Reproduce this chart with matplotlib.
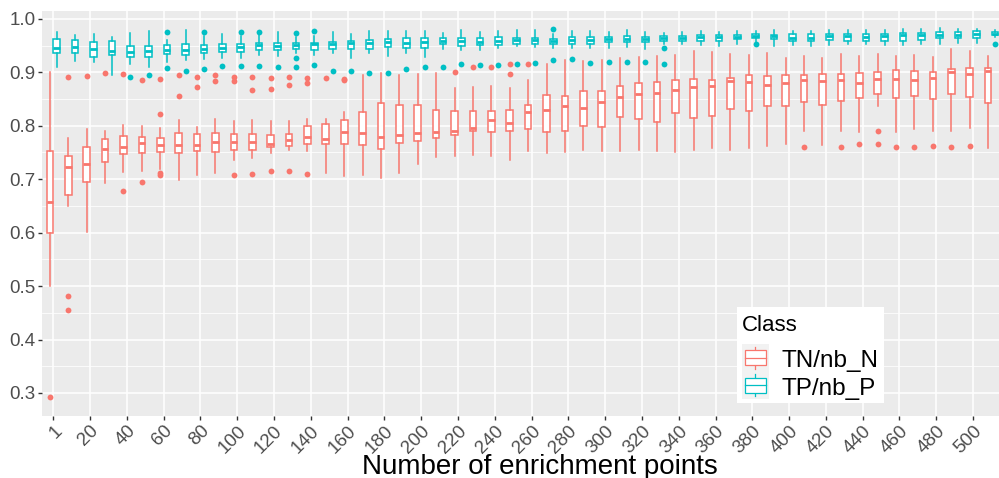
import matplotlib
matplotlib.use("Agg")
import matplotlib.pyplot as plt
from matplotlib.patches import Rectangle
from matplotlib.lines import Line2D

# x categories: number of enrichment points (only every other one is labelled)
points = ["1"] + [str(v) for v in range(10, 520, 10)]

# TN/nb_N boxes
tn_lo = [0.500, 0.649, 0.602, 0.693, 0.713, 0.715, 0.719, 0.699, 0.707, 0.711,
         0.735, 0.739, 0.749, 0.754, 0.752, 0.711, 0.705, 0.707, 0.702, 0.711,
         0.729, 0.741, 0.743, 0.745, 0.743, 0.736, 0.752, 0.749, 0.751, 0.754,
         0.752, 0.753, 0.754, 0.752, 0.751, 0.754, 0.758, 0.755, 0.758, 0.762,
         0.766, 0.790, 0.764, 0.790, 0.788, 0.836, 0.789, 0.793, 0.790, 0.791,
         0.795, 0.759]
tn_q1 = [0.600, 0.671, 0.694, 0.733, 0.747, 0.749, 0.750, 0.749, 0.752, 0.751,
         0.755, 0.755, 0.761, 0.762, 0.766, 0.766, 0.766, 0.764, 0.757, 0.768,
         0.771, 0.777, 0.782, 0.790, 0.788, 0.790, 0.794, 0.788, 0.790, 0.800,
         0.798, 0.817, 0.813, 0.806, 0.824, 0.814, 0.819, 0.832, 0.828, 0.836,
         0.837, 0.844, 0.839, 0.847, 0.851, 0.859, 0.852, 0.856, 0.850, 0.859,
         0.854, 0.842]
tn_med = [0.658, 0.723, 0.729, 0.756, 0.761, 0.767, 0.764, 0.764, 0.764, 0.770,
          0.769, 0.769, 0.766, 0.774, 0.778, 0.776, 0.789, 0.786, 0.778, 0.783,
          0.787, 0.788, 0.791, 0.796, 0.810, 0.805, 0.826, 0.830, 0.836, 0.833,
          0.844, 0.853, 0.859, 0.861, 0.867, 0.872, 0.875, 0.883, 0.881, 0.876,
          0.879, 0.885, 0.883, 0.886, 0.879, 0.888, 0.888, 0.886, 0.890, 0.900,
          0.896, 0.903]
tn_q3 = [0.752, 0.744, 0.761, 0.776, 0.780, 0.779, 0.777, 0.786, 0.784, 0.786,
         0.785, 0.785, 0.783, 0.784, 0.800, 0.804, 0.811, 0.826, 0.842, 0.838,
         0.838, 0.829, 0.827, 0.827, 0.828, 0.830, 0.838, 0.857, 0.855, 0.864,
         0.864, 0.874, 0.879, 0.881, 0.885, 0.887, 0.886, 0.889, 0.895, 0.893,
         0.894, 0.894, 0.896, 0.897, 0.899, 0.901, 0.904, 0.903, 0.901, 0.906,
         0.908, 0.908]
tn_hi = [0.900, 0.777, 0.794, 0.791, 0.802, 0.800, 0.795, 0.811, 0.797, 0.812,
         0.809, 0.810, 0.808, 0.809, 0.812, 0.812, 0.826, 0.894, 0.898, 0.894,
         0.896, 0.898, 0.871, 0.872, 0.874, 0.871, 0.886, 0.916, 0.922, 0.921,
         0.923, 0.927, 0.929, 0.930, 0.933, 0.940, 0.938, 0.934, 0.933, 0.936,
         0.926, 0.931, 0.927, 0.934, 0.930, 0.935, 0.931, 0.933, 0.929, 0.943,
         0.939, 0.930]
tn_out = [[0.292], [0.891, 0.481, 0.455], [0.893], [0.898], [0.896, 0.678],
          [0.886, 0.695], [0.888, 0.822, 0.712, 0.708], [0.894, 0.856],
          [0.892, 0.873], [0.894, 0.883], [0.891, 0.884, 0.707],
          [0.892, 0.867, 0.710], [0.889, 0.869, 0.716], [0.892, 0.876, 0.716],
          [0.890, 0.879, 0.709], [0.889], [0.888, 0.885], [], [], [], [], [],
          [0.900], [0.910], [0.909], [0.915, 0.896], [0.916], [], [], [], [],
          [], [], [], [], [], [], [], [], [], [], [0.761], [], [0.760],
          [0.766], [0.791, 0.766], [0.760], [0.760], [0.762], [0.761],
          [0.762], []]

# TP/nb_P boxes
tp_lo = [0.910, 0.921, 0.919, 0.894, 0.916, 0.910, 0.919, 0.922, 0.925, 0.927,
         0.927, 0.932, 0.930, 0.936, 0.933, 0.936, 0.927, 0.936, 0.930, 0.936,
         0.928, 0.944, 0.942, 0.942, 0.946, 0.949, 0.948, 0.945, 0.946, 0.945,
         0.945, 0.948, 0.944, 0.952, 0.952, 0.951, 0.950, 0.952, 0.956, 0.950,
         0.951, 0.950, 0.951, 0.952, 0.952, 0.951, 0.951, 0.952, 0.952, 0.954,
         0.954, 0.966]
tp_q1 = [0.936, 0.936, 0.929, 0.932, 0.929, 0.929, 0.934, 0.932, 0.936, 0.938,
         0.937, 0.941, 0.941, 0.944, 0.942, 0.943, 0.943, 0.944, 0.948, 0.946,
         0.946, 0.952, 0.949, 0.951, 0.951, 0.953, 0.952, 0.952, 0.952, 0.952,
         0.956, 0.956, 0.956, 0.958, 0.958, 0.959, 0.959, 0.962, 0.964, 0.962,
         0.959, 0.959, 0.961, 0.959, 0.959, 0.959, 0.959, 0.961, 0.964, 0.964,
         0.964, 0.969]
tp_med = [0.945, 0.948, 0.944, 0.940, 0.937, 0.940, 0.941, 0.942, 0.943, 0.946,
          0.947, 0.951, 0.950, 0.951, 0.952, 0.953, 0.955, 0.955, 0.956, 0.955,
          0.956, 0.958, 0.959, 0.957, 0.959, 0.961, 0.960, 0.958, 0.961, 0.961,
          0.962, 0.962, 0.962, 0.964, 0.964, 0.965, 0.965, 0.966, 0.967, 0.967,
          0.964, 0.964, 0.967, 0.967, 0.966, 0.967, 0.969, 0.969, 0.970, 0.970,
          0.972, 0.972]
tp_q3 = [0.962, 0.961, 0.957, 0.959, 0.949, 0.949, 0.951, 0.952, 0.951, 0.953,
         0.953, 0.954, 0.955, 0.955, 0.955, 0.957, 0.959, 0.961, 0.962, 0.964,
         0.964, 0.964, 0.964, 0.964, 0.965, 0.964, 0.964, 0.962, 0.965, 0.966,
         0.965, 0.967, 0.966, 0.967, 0.967, 0.969, 0.969, 0.970, 0.971, 0.970,
         0.971, 0.971, 0.972, 0.972, 0.972, 0.972, 0.974, 0.974, 0.975, 0.975,
         0.977, 0.975]
tp_hi = [0.976, 0.969, 0.972, 0.966, 0.974, 0.977, 0.961, 0.979, 0.968, 0.972,
         0.967, 0.969, 0.975, 0.966, 0.967, 0.975, 0.971, 0.977, 0.977, 0.978,
         0.977, 0.974, 0.979, 0.975, 0.977, 0.979, 0.979, 0.971, 0.978, 0.977,
         0.976, 0.979, 0.975, 0.974, 0.975, 0.977, 0.975, 0.977, 0.977, 0.979,
         0.977, 0.978, 0.979, 0.979, 0.979, 0.979, 0.981, 0.981, 0.982, 0.981,
         0.981, 0.979]
tp_out = [[], [], [], [], [0.891], [0.895], [0.975, 0.908], [0.902],
          [0.976, 0.906], [0.912], [0.976, 0.912], [0.976, 0.912], [0.910],
          [0.973, 0.927, 0.910], [0.977, 0.914], [0.902], [0.903], [0.899],
          [0.898], [0.907], [0.909], [0.910], [0.915], [0.914], [0.914],
          [0.916], [0.917], [0.981, 0.923], [0.925], [0.918], [0.919], [0.919],
          [0.919], [0.945, 0.915], [], [], [], [], [0.952], [], [], [], [], [],
          [], [], [], [], [], [], [], [0.952]]

RED = "#F8766D"
CYAN = "#00BFC4"

plt.rcParams["font.family"] = ["Liberation Sans", "DejaVu Sans"]

W, H = 999, 478
fig = plt.figure(figsize=(W / 100, H / 100), dpi=100)
ax = fig.add_axes([42.3 / W, 1 - 415.7 / H, (W - 42.3) / W, (415.7 - 10.5) / H])
ax.set_facecolor("#EBEBEB")
for s in ax.spines.values():
    s.set_visible(False)


def box_stats(lo, q1, med, q3, hi, out):
    return [dict(whislo=a, q1=b, med=c, q3=d, whishi=e, fliers=f)
            for a, b, c, d, e, f in zip(lo, q1, med, q3, hi, out)]


def draw(stats, shift, color):
    ax.bxp(stats, positions=[i + shift for i in range(len(points))], widths=0.36,
           patch_artist=True, showcaps=False, manage_ticks=False,
           boxprops=dict(facecolor="white", edgecolor=color, linewidth=1.1),
           medianprops=dict(color=color, linewidth=2.0, solid_capstyle="butt"),
           whiskerprops=dict(color=color, linewidth=1.1),
           flierprops=dict(marker="o", markersize=4.2, markerfacecolor=color,
                           markeredgecolor="none"),
           zorder=3)


draw(box_stats(tn_lo, tn_q1, tn_med, tn_q3, tn_hi, tn_out), -0.1875, RED)
draw(box_stats(tp_lo, tp_q1, tp_med, tp_q3, tp_hi, tp_out), 0.1875, CYAN)

ax.set_xlim(-0.6, 51.41)
ax.set_ylim(0.2575, 1.0155)

xt = list(range(0, len(points), 2))
ax.set_xticks(xt)
ax.set_xticklabels([points[i] for i in xt], rotation=45, ha="right",
                   rotation_mode="anchor")
yt = [0.3, 0.4, 0.5, 0.6, 0.7, 0.8, 0.9, 1.0]
ax.set_yticks(yt)
ax.set_yticklabels([f"{v:.1f}" for v in yt])
ax.set_yticks([0.35, 0.45, 0.55, 0.65, 0.75, 0.85, 0.95], minor=True)

ax.set_axisbelow(True)
ax.grid(which="major", color="white", linewidth=1.1)
ax.grid(which="minor", axis="y", color="white", linewidth=0.55)
ax.tick_params(axis="both", which="major", length=3.2, width=1.0,
               color="#333333", labelcolor="#4D4D4D", labelsize=13.5, pad=1.5)
ax.tick_params(axis="y", which="minor", length=0)

ax.set_xlabel("Number of enrichment points", fontsize=20, color="black")
ax.xaxis.set_label_coords(0.5197, -0.095)

# legend drawn by hand, ggplot style
def fx(px):
    return px / W


def fy(py):
    return 1 - py / H


tf = fig.transFigure
fig.patches.append(Rectangle((fx(737), fy(403)), fx(884) - fx(737), fy(307) - fy(403),
                             facecolor="white", edgecolor="none", transform=tf, zorder=5))
fig.text(fx(742), fy(331), "Class", fontsize=16, color="black", va="baseline",
         transform=tf, zorder=6)
for k, (lab, col) in enumerate([("TN/nb_N", RED), ("TP/nb_P", CYAN)]):
    top = 344 + 27.5 * k
    fig.patches.append(Rectangle((fx(741.7), fy(top + 27.5)), fx(769) - fx(741.7),
                                 fy(top) - fy(top + 27.5), facecolor="#F2F2F2",
                                 edgecolor="none", transform=tf, zorder=6))
    cy = top + 13.75
    fig.lines.append(Line2D([fx(755.3), fx(755.3)], [fy(cy - 11), fy(cy + 11)],
                            color=col, linewidth=0.9, transform=tf, zorder=7))
    fig.patches.append(Rectangle((fx(745), fy(cy + 7.5)), fx(765.7) - fx(745),
                                 fy(cy - 7.5) - fy(cy + 7.5), facecolor="white",
                                 edgecolor=col, linewidth=0.9, transform=tf, zorder=8))
    fig.lines.append(Line2D([fx(745), fx(765.7)], [fy(cy), fy(cy)], color=col,
                            linewidth=0.9, transform=tf, zorder=9))
    fig.text(fx(781), fy(367.3 + 27.2 * k), lab, fontsize=17.5, color="black",
             va="baseline", transform=tf, zorder=9)

fig.savefig("out.png", dpi=100, facecolor="white")
